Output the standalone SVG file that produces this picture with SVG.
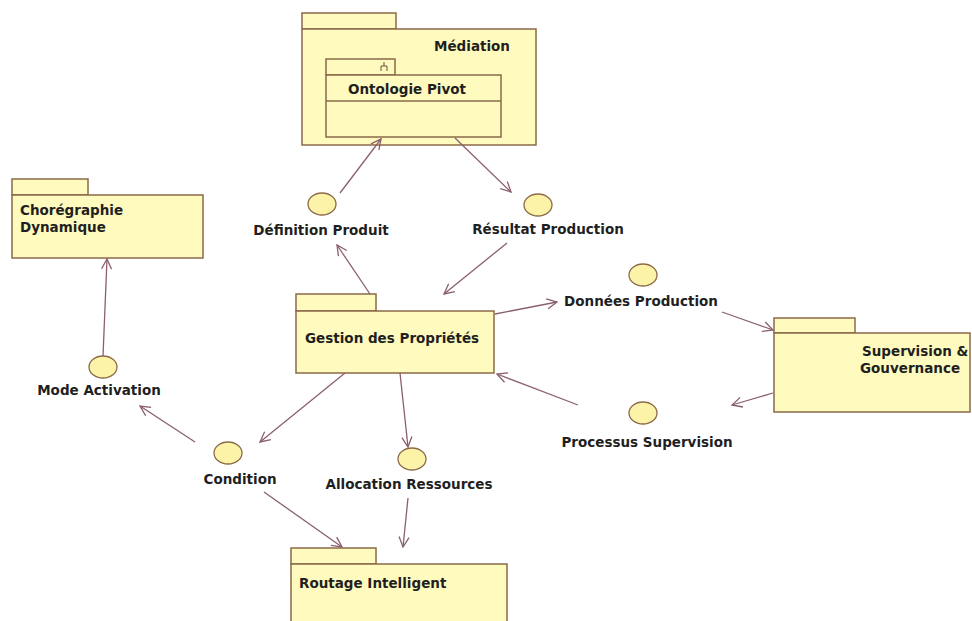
<svg xmlns="http://www.w3.org/2000/svg" width="972" height="621" viewBox="0 0 972 621">
<defs>
<style>
.pkg{fill:#FFFBBE;stroke:#8A6A48;stroke-width:1.5}
.ifc{fill:#FCF3A8;stroke:#8A6A48;stroke-width:1.3}
.t{font-family:"DejaVu Sans",Verdana,sans-serif;font-weight:bold;font-size:13.5px;fill:#1f1f1f}
.c{text-anchor:middle}
.con line{stroke:#8A5F6E;stroke-width:1.3;fill:none}
</style>
<marker id="arr" viewBox="0 0 12 12" refX="11" refY="6" markerWidth="12" markerHeight="12" markerUnits="userSpaceOnUse" orient="auto">
<path d="M1,1 L11,6 L1,11" fill="none" stroke="#8A5F6E" stroke-width="1.3"/>
</marker>
</defs>
<rect width="972" height="621" fill="#ffffff"/>

<g id="mediation">
<rect class="pkg" x="302" y="13" width="94" height="16"/>
<rect class="pkg" x="302" y="29" width="234" height="116"/>
<text class="t" x="472" y="51" text-anchor="middle">Médiation</text>
</g>
<g id="ontologie-pivot">
<rect class="pkg" x="326" y="59" width="69" height="16"/>
<rect class="pkg" x="326" y="75" width="175" height="62"/>
<line x1="326" y1="101" x2="501" y2="101" stroke="#8A6A48" stroke-width="1.5"/>
<path d="M381,71 V66 H387 V71 M384,66 V62" fill="none" stroke="#6a5040" stroke-width="1"/>
<text class="t" x="407" y="94" text-anchor="middle">Ontologie Pivot</text>
</g>
<g id="choregraphie">
<rect class="pkg" x="12" y="179" width="76" height="16"/>
<rect class="pkg" x="12" y="195" width="191" height="63"/>
<text class="t" x="20" y="215">Chorégraphie</text>
<text class="t" x="20" y="232">Dynamique</text>
</g>
<g id="gestion">
<rect class="pkg" x="296" y="294" width="80" height="17"/>
<rect class="pkg" x="296" y="311" width="198" height="62"/>
<text class="t" x="305" y="343">Gestion des Propriétés</text>
</g>
<g id="supervision">
<rect class="pkg" x="774" y="318" width="81" height="15"/>
<rect class="pkg" x="774" y="333" width="196" height="79"/>
<text class="t" x="862" y="356">Supervision &amp;</text>
<text class="t" x="860" y="373">Gouvernance</text>
</g>
<g id="routage">
<rect class="pkg" x="291" y="548" width="85" height="16"/>
<rect class="pkg" x="291" y="564" width="216" height="70"/>
<text class="t" x="299" y="588">Routage Intelligent</text>
</g>

<g id="definition-produit">
<ellipse class="ifc" cx="322" cy="204" rx="14" ry="11"/>
<text class="t c" x="321" y="235">Définition Produit</text>
</g>
<g id="resultat-production">
<ellipse class="ifc" cx="538" cy="205" rx="14" ry="11"/>
<text class="t c" x="548" y="234">Résultat Production</text>
</g>
<g id="donnees-production">
<ellipse class="ifc" cx="643" cy="275" rx="14" ry="11"/>
<text class="t c" x="641" y="306">Données Production</text>
</g>
<g id="processus-supervision">
<ellipse class="ifc" cx="643" cy="413" rx="14" ry="11"/>
<text class="t c" x="647" y="447">Processus Supervision</text>
</g>
<g id="mode-activation">
<ellipse class="ifc" cx="103" cy="367" rx="14" ry="11"/>
<text class="t c" x="99" y="395">Mode Activation</text>
</g>
<g id="condition">
<ellipse class="ifc" cx="228" cy="453" rx="14" ry="11"/>
<text class="t c" x="240" y="484">Condition</text>
</g>
<g id="allocation-ressources">
<ellipse class="ifc" cx="412" cy="459" rx="14" ry="11"/>
<text class="t c" x="409" y="489">Allocation Ressources</text>
</g>

<g id="connectors" class="con">
<line x1="340" y1="193" x2="381" y2="139" marker-end="url(#arr)"/>
<line x1="455" y1="138" x2="511" y2="192" marker-end="url(#arr)"/>
<line x1="370" y1="294" x2="337" y2="245" marker-end="url(#arr)"/>
<line x1="507" y1="243" x2="444" y2="294" marker-end="url(#arr)"/>
<line x1="495" y1="314" x2="557" y2="302" marker-end="url(#arr)"/>
<line x1="722" y1="312" x2="773" y2="330" marker-end="url(#arr)"/>
<line x1="773" y1="393" x2="732" y2="405" marker-end="url(#arr)"/>
<line x1="578" y1="405" x2="497" y2="374" marker-end="url(#arr)"/>
<line x1="345" y1="373" x2="260" y2="442" marker-end="url(#arr)"/>
<line x1="400" y1="373" x2="408" y2="447" marker-end="url(#arr)"/>
<line x1="195" y1="442" x2="140" y2="406" marker-end="url(#arr)"/>
<line x1="103" y1="356" x2="107" y2="259" marker-end="url(#arr)"/>
<line x1="264" y1="492" x2="342" y2="547" marker-end="url(#arr)"/>
<line x1="408" y1="498" x2="403" y2="547" marker-end="url(#arr)"/>
</g>
</svg>
